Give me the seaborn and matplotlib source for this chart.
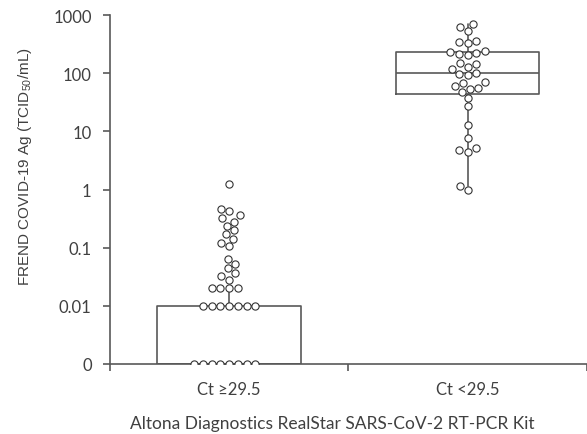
import pandas as pd
import seaborn as sns
import matplotlib.pyplot as plt
from matplotlib.ticker import NullLocator

# data (TCID50/mL); zeros are drawn on the "0" baseline
cats = ['Ct \u226529.5', 'Ct <29.5']
low_ct = [0] * 8 + [0.01] * 7 + [0.02] * 4 + [
    0.028, 0.032, 0.036, 0.044, 0.053, 0.065,
    0.105, 0.12, 0.14, 0.17, 0.2, 0.24, 0.28, 0.32, 0.36, 0.42, 0.47, 1.26]
high_ct = [700, 620, 535, 357, 350, 330, 240, 230, 222, 215, 210,
           150, 145, 130, 117, 100, 98, 93, 70, 68, 60, 56, 54, 48,
           38, 27, 13, 7.8, 5.2, 4.8, 4.5, 1.17, 1.0]

# box summaries as drawn in the figure: whislo, q1, median, q3, whishi
box_low = [0, 0, 0, 0.01, 0.02]
box_high = [1.17, 44, 100, 232, 700]

zero_at = 0.001
ytick_vals = [0.001, 0.01, 0.1, 1, 10, 100, 1000]
ytick_labels = ['0', '0.01', '0.1', '1', '10', '100', '1000']

df = pd.DataFrame({
    'group': [cats[0]] * len(low_ct) + [cats[1]] * len(high_ct),
    'value': low_ct + high_ct,
})
df['plot_value'] = df['value'].where(df['value'] > 0, zero_at)

sns.set_style('white')
plt.rcParams['font.family'] = ['Lato', 'DejaVu Sans']
plt.rcParams['mathtext.fontset'] = 'custom'
plt.rcParams['mathtext.rm'] = 'Liberation Sans'
plt.rcParams['mathtext.it'] = 'Liberation Sans'

txt = '#404040'
line = '#595959'
fs = 12

fig = plt.figure(figsize=(5.87, 4.35), dpi=100)
ax = fig.add_axes([0.187, 0.161, 0.813, 0.802])
ax.set_yscale('log')
ax.set_ylim(zero_at, 1000)
ax.set_xlim(-0.5, 1.5)

stats = []
for b in [box_low, box_high]:
    b = [v if v > 0 else zero_at for v in b]
    stats.append(dict(whislo=b[0], q1=b[1], med=b[2], q3=b[3], whishi=b[4], fliers=[]))
lp = dict(color=line, linewidth=1.2)
ax.bxp(stats, positions=[0, 1], widths=0.6, showcaps=False, showfliers=False,
       boxprops=lp, whiskerprops=lp, medianprops=lp, manage_ticks=False)

sns.swarmplot(data=df, x='group', y='plot_value', order=cats, size=5.2,
              color='white', edgecolor='#333333', linewidth=0.8, ax=ax, zorder=3)

ax.set_xlim(-0.5, 1.5)
ax.set_ylim(zero_at, 1000)

# category boundaries get the tick marks, labels sit at category centres
ax.set_xticks([-0.5, 0.5, 1.5])
ax.set_xticklabels([])
ax.set_xticks([0, 1], minor=True)
ax.set_xticklabels(cats, minor=True)
ax.tick_params(axis='x', which='major', length=5, width=1.2, color=line, direction='out', bottom=True)
ax.tick_params(axis='x', which='minor', length=0, pad=12, labelsize=fs, labelcolor=txt)

ax.set_yticks(ytick_vals)
ax.set_yticklabels(ytick_labels)
ax.yaxis.set_minor_locator(NullLocator())
ax.tick_params(axis='y', length=5, width=1.2, color=line, direction='out', left=True,
               pad=8, labelsize=fs, labelcolor=txt)

for s in ['top', 'right']:
    ax.spines[s].set_visible(False)
for s in ['left', 'bottom']:
    ax.spines[s].set_color(line)
    ax.spines[s].set_linewidth(1.2)

ax.set_xlabel('Altona Diagnostics RealStar SARS-CoV-2 RT-PCR Kit',
              fontsize=12.5, color=txt)
ax.xaxis.set_label_coords(0.467, -0.147)
ax.set_ylabel('FREND COVID-19 Ag (TCID$_{50}$/mL)', fontsize=11, color=txt,
              family=['Liberation Sans', 'DejaVu Sans'])
ax.yaxis.set_label_coords(-0.158, 0.57)

fig.savefig('out.png', dpi=100)
